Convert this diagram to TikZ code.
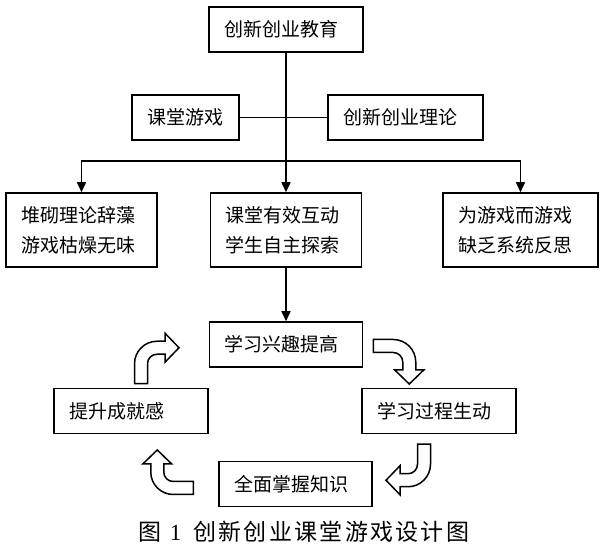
\documentclass[tikz,border=0pt]{standalone}
\usepackage{fontspec}
\setmainfont{Noto Sans CJK SC}
\newfontfamily\capfont[LetterSpace=10]{Noto Sans CJK SC}
\newfontfamily\capnum{Liberation Serif}
\usetikzlibrary{arrows.meta,calc}

\tikzset{
    box/.style={draw, line width=0.75pt, inner xsep=7.5pt, inner ysep=0pt,
        align=left, text width=#1, minimum height=22.5pt},
    tallbox/.style={box=#1, minimum height=37pt},
    arr/.style={line width=0.75pt, -{Triangle[width=4.5pt,length=5pt]}},
    % bent block arrow, tail at the origin, turning clockwise
    bendarrow/.pic={
        \draw[line width=0.75pt, fill=white] (0,-6.5) -- (20,-6.5)
            .. controls (32.4,-6.5) and (42.5,3.6) .. (42.5,16) -- (42.5,24)
            -- (50.5,24) -- (36,38) -- (21.5,24) -- (29.5,24) -- (29.5,16)
            .. controls (29.5,10.75) and (25.25,6.5) .. (20,6.5) -- (0,6.5) -- cycle;
    }
}

\begin{document}
\begin{tikzpicture}[x=0.5pt, y=-0.5pt, every node/.style={font=\fontsize{9.5}{15}\selectfont}]
    \useasboundingbox (0,0) rectangle (600,560);

    \node[box=62pt] (edu) at (286,29.5) {创新创业教育};
    \node[box=38.5pt] (game) at (185.5,117.5) {课堂游戏};
    \node[box=62.5pt] (theory) at (405.5,117.5) {创新创业理论};

    \node[tallbox=60.5pt] (dry) at (81.5,230) {堆砌理论辞藻\\游戏枯燥无味};
    \node[tallbox=60.5pt] (interact) at (286,230) {课堂有效互动\\学生自主探索};
    \node[tallbox=62.5pt] (noreflect) at (520.5,230) {为游戏而游戏\\缺乏系统反思};

    \node[box=61.5pt] (interest) at (286,344.5) {学习兴趣提高};
    \node[box=62pt] (vivid) at (439,411) {学习过程生动};
    \node[box=62pt] (achieve) at (131,411) {提升成就感};
    \node[box=61.5pt] (master) at (295.5,484) {全面掌握知识};

    \node (cap) at (304,532) {\fontsize{11.5}{14}\capfont 图\hspace{4pt}{\capnum 1}\hspace{6pt}创新创业课堂游戏设计图};

    % tree part
    \coordinate (branch) at (286,161);
    \draw[line width=0.75pt] (game) -- (theory);
    \draw[arr] (edu) -- (interact);
    \draw[arr] (branch) -| (dry);
    \draw[arr] (branch) -| (noreflect);
    \draw[arr] (interact) -- (interest);

    % cycle part
    \coordinate (t1) at ($(interest.east)+(10,1.5)$);
    \coordinate (t2) at ($(vivid.south)+(-15,10)$);
    \coordinate (t3) at ($(master.west)+(-25,4)$);
    \coordinate (t4) at ($(achieve.north)+(10,-4)$);
    \foreach \t/\a in {t1/0, t2/-90, t3/180, t4/90}
        \pic[rotate=\a] at (\t) {bendarrow};
\end{tikzpicture}
\end{document}
